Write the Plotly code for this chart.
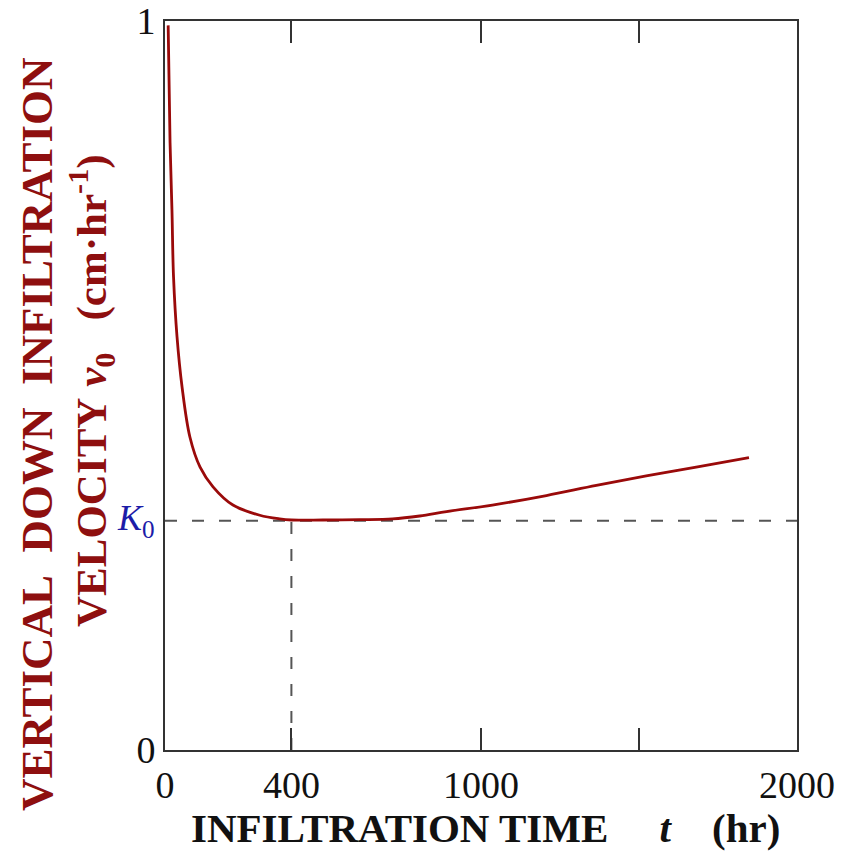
import plotly.graph_objects as go

# Infiltration velocity v0 versus infiltration time t
t_hr = [10, 16, 22, 27, 38, 54, 79, 111, 152, 215, 300, 363, 400, 500, 616, 720,
        806, 891, 1036, 1207, 1365, 1523, 1681, 1848]
v0 = [0.994, 0.833, 0.741, 0.649, 0.567, 0.498, 0.429, 0.388, 0.361, 0.336, 0.322, 0.317,
      0.3155, 0.3155, 0.316, 0.317, 0.321, 0.327, 0.336, 0.349, 0.363, 0.376, 0.388, 0.401]

K0 = 0.3145          # steady (saturated) infiltration velocity
T_K0 = 400           # time at which v0 first reaches K0

x_tickvals = [0, 400, 1000, 1500, 2000]
x_ticktext = ["0", "400", "1000", "", "2000"]
y_tickvals = [0, 1]
y_ticktext = ["0", "1"]

RED = "#8e0f0f"
SERIF = "Liberation Serif, Times New Roman, serif"
NB = "\u00a0"

fig = go.Figure()

# reference lines for K0
fig.add_trace(go.Scatter(x=[0, 2000], y=[K0, K0], mode="lines",
                         line=dict(color="#555555", width=2, dash="12px,15px"),
                         hoverinfo="skip", showlegend=False))
fig.add_trace(go.Scatter(x=[T_K0, T_K0], y=[0, K0], mode="lines",
                         line=dict(color="#555555", width=2, dash="12px,15px"),
                         hoverinfo="skip", showlegend=False))

# infiltration curve
fig.add_trace(go.Scatter(x=t_hr, y=v0, mode="lines",
                         line=dict(color="#9a0a0a", width=2.8, shape="spline", smoothing=1.0),
                         showlegend=False))

fig.update_xaxes(range=[0, 2000], tickvals=x_tickvals, ticktext=x_ticktext,
                 ticks="inside", ticklen=22, tickwidth=1.5, tickcolor="#333333",
                 showline=True, linecolor="#333333", linewidth=2, mirror="ticks",
                 showgrid=False, zeroline=False, automargin=False,
                 tickfont=dict(family=SERIF, size=38, color="#111111"))
fig.update_yaxes(range=[0, 1], tickvals=y_tickvals, ticktext=y_ticktext,
                 ticks="", showline=True, linecolor="#333333", linewidth=2, mirror=True,
                 showgrid=False, zeroline=False, automargin=False,
                 tickfont=dict(family=SERIF, size=38, color="#111111"))

annotations = [
    # K0 label
    dict(x=0, y=K0, xref="x", yref="y", xanchor="right", yanchor="middle", xshift=-8,
         text="<i>K</i><sub>0</sub>", showarrow=False,
         font=dict(family=SERIF, size=36, color="#1c1ca8")),
    # x-axis title
    dict(x=485, y=828, xref="paper", yref="paper", showarrow=False,
         text="<b>INFILTRATION TIME" + NB * 5 + "<i>t</i>" + NB * 4 + "(hr)</b>",
         font=dict(family=SERIF, size=41, color="#111111")),
    # y-axis title, first line
    dict(x=37, y=434, xref="paper", yref="paper", showarrow=False, textangle=-90,
         text="<b>VERTICAL" + NB * 2 + "DOWN" + NB * 2 + "INFILTRATION</b>",
         font=dict(family=SERIF, size=45, color=RED)),
    # y-axis title, second line
    dict(x=91, y=391, xref="paper", yref="paper", showarrow=False, textangle=-90,
         text="<b>VELOCITY" + NB + "<i>v</i><sub>0</sub>" + NB * 3 + "(cm·hr<sup>-1</sup>)</b>",
         font=dict(family=SERIF, size=43, color=RED)),
]

# convert pixel-placed title positions into paper coordinates
W, H = 847, 853
L, R, T, B = 165, 50, 21, 103
pw, ph = W - L - R, H - T - B
for a in annotations[1:]:
    px, py = a["x"], a["y"]
    a["x"] = (px - L) / pw
    a["y"] = (H - B - py) / ph
    a["xanchor"] = "center"
    a["yanchor"] = "middle"

fig.update_layout(width=W, height=H, margin=dict(l=L, r=R, t=T, b=B, pad=0),
                  paper_bgcolor="white", plot_bgcolor="white",
                  annotations=annotations, showlegend=False)

fig.write_html("out.html")
